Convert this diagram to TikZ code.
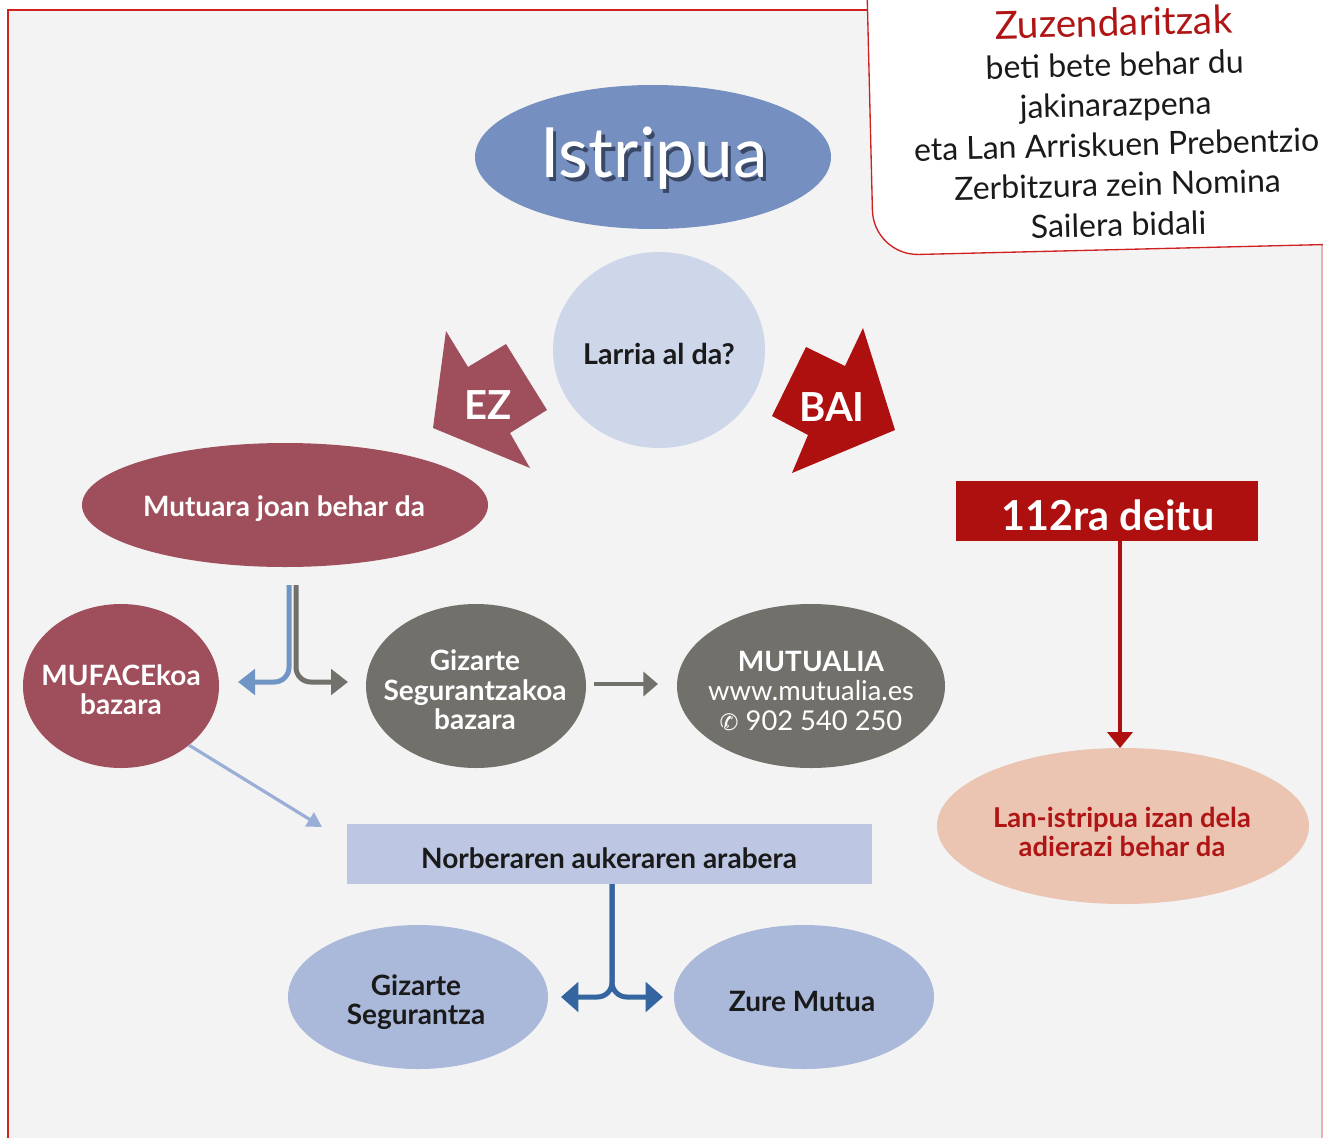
\documentclass[tikz,border=0pt]{standalone}
\usepackage{fontspec}
\setmainfont{Lato}
\newfontfamily\symfont{DejaVu Sans}
\usetikzlibrary{arrows.meta,shapes.geometric}
\definecolor{bg}{HTML}{F3F3F3}
\definecolor{framered}{HTML}{D02020}
\definecolor{maroon}{HTML}{9F4F5C}
\definecolor{dred}{HTML}{AE1010}
\definecolor{steel}{HTML}{7590C0}
\definecolor{pale}{HTML}{CED6E9}
\definecolor{stone}{HTML}{72706A}
\definecolor{lblue}{HTML}{7094C4}
\definecolor{lbtwo}{HTML}{9AAFD8}
\definecolor{rectb}{HTML}{BDC7E3}
\definecolor{ovb}{HTML}{AAB8DA}
\definecolor{dblue}{HTML}{3565A0}
\definecolor{peach}{HTML}{EBC4B2}
\definecolor{txtred}{HTML}{B01515}
\definecolor{ink}{HTML}{1A1A1A}
\definecolor{shade}{HTML}{3A4866}
\newcommand\bodyb{\bfseries\fontsize{21}{22}\selectfont}
\begin{document}
\begin{tikzpicture}[x=0.75pt,y=-0.75pt,
  oval/.style={ellipse, inner sep=0pt, outer sep=0pt},
  lbl/.style={inner sep=0pt, align=center, font=\bodyb},
  boxr/.style={rectangle, inner sep=0pt, outer sep=0pt, align=center},
  fork/.style={line width=3.75pt, rounded corners=11pt},
  tipa/.style={-{Triangle[length=12.75pt,width=19pt]}},
  tipb/.style={-{Triangle[length=13pt,width=22pt]}}]
\useasboundingbox (0,0) rectangle (1323,1138);
% frame
\fill[bg] (8,10) rectangle (1322,1138);
\draw[framered, line width=1.3pt] (8,1138) -- (8,10) -- (900,10);
\draw[framered!35, line width=1pt] (1322,10) -- (1322,1138);
% note box
\begin{scope}[rotate around={1.4:(1100,150)}]
  \fill[white, rounded corners=34pt] (871,-90) -- (871,250) -- (1430,250) -- (1430,-90) -- cycle;
  \draw[framered, line width=1pt, rounded corners=34pt] (871,-90) -- (871,250) -- (1430,250);
\end{scope}
\node[rotate=1.4, align=center, text=ink, font=\fontsize{24}{30}\selectfont] (note) at (1116,122)
  {\textcolor{txtred}{\fontsize{29}{30}\selectfont Zuzendaritzak}\\
   beti bete behar du\\ jakinarazpena\\ eta Lan Arriskuen Prebentzio\\
   Zerbitzura zein Nomina\\ Sailera bidali};
% top
\node[oval, fill=steel, minimum width=267pt, minimum height=108pt] (ist) at (653,157) {};
\node[text=white, font=\fontsize{52}{60}\selectfont] (istt) at (654,160)
  {\makebox[0pt][l]{\hspace{2.5pt}\raisebox{-3.5pt}{\textcolor{shade}{Istripua}}}Istripua};
\node[oval, fill=pale, minimum width=159pt, minimum height=147pt] (larria) at (659,350) {};
\node[lbl, text=ink, font=\bfseries\fontsize{21.5}{24}\selectfont] (larriat) at (659,354) {Larria al da?};
% EZ / BAI block arrows
\fill[maroon] (446,331) -- (468,367) -- (506,344) -- (547,410) -- (510,433) -- (530,468) -- (433,428) -- cycle;
\node[text=white, font=\bfseries\fontsize{30}{32}\selectfont] (ez) at (488,405) {EZ};
\fill[dred] (863,328) -- (895,430) -- (792,473) -- (808,435) -- (772,416) -- (806,347) -- (845,366) -- cycle;
\node[text=white, font=\bfseries\fontsize{30}{32}\selectfont] (bai) at (832,407) {BAI};
% left branch
\node[oval, fill=maroon, minimum width=304.5pt, minimum height=93pt] (mutuara) at (285,505) {};
\node[lbl, text=white] (mutuarat) at (284,509) {Mutuara joan behar da};
\node[oval, fill=maroon, minimum width=147pt, minimum height=123pt] (mufa) at (121,686) {};
\node[lbl, text=white] (mufat) at (121,690) {MUFACEkoa\\bazara};
\node[oval, fill=stone, minimum width=165pt, minimum height=123pt] (gizb) at (476,686) {};
\node[lbl, text=white] (gizbt) at (475,690) {Gizarte\\Segurantzakoa\\bazara};
\node[oval, fill=stone, minimum width=201pt, minimum height=123pt] (mutualia) at (811,686) {};
\node[lbl, text=white] (mutualiat) at (811,691)
  {MUTUALIA\\{\mdseries\fontsize{20.5}{22}\selectfont www.mutualia.es}\\{\mdseries\fontsize{20.5}{22}\selectfont{\symfont\fontsize{17}{20}\selectfont ✆} 902 540 250}};
\node[boxr, fill=rectb, minimum width=393.75pt, minimum height=45pt] (norb) at (609.5,854) {};
\node[lbl, text=ink] (norbt) at (609,858) {Norberaren aukeraren arabera};
\node[oval, fill=ovb, minimum width=195pt, minimum height=108pt] (gs) at (418,997) {};
\node[lbl, text=ink] (gst) at (416,1002) {Gizarte\\Segurantza};
\node[oval, fill=ovb, minimum width=195pt, minimum height=108pt] (zm) at (804,997) {};
\node[lbl, text=ink] (zmt) at (802,1001) {Zure Mutua};
% right branch
\node[boxr, fill=dred, minimum width=226.5pt, minimum height=45pt] (deitu) at (1107,511) {};
\node[lbl, text=white, font=\bfseries\fontsize{31}{32}\selectfont] (deitut) at (1108,515) {112ra deitu};
\node[oval, fill=peach, minimum width=279pt, minimum height=117pt] (lan) at (1123,826) {};
\node[lbl, text=txtred, font=\bfseries\fontsize{20.5}{22}\selectfont] (lant) at (1122,832) {Lan-istripua izan dela\\adierazi behar da};
% connectors
\draw[fork, lblue, tipa] ([xshift=3pt,yshift=-13.5pt]mutuara.south) |- ([xshift=14.25pt,yshift=3pt]mufa.east);
\draw[fork, stone, tipa] ([xshift=8.25pt,yshift=-13.5pt]mutuara.south) |- ([xshift=-13.5pt,yshift=3pt]gizb.west);
\draw[stone, line width=3pt, -{Triangle[length=11pt,width=18pt]}] ([xshift=6pt,yshift=1.5pt]gizb.east) -- ([xshift=-14.25pt,yshift=1.5pt]mutualia.west);
\draw[lbtwo, line width=2.4pt, -{Triangle[length=11pt,width=12pt]}] (mufa.-41) -- ([xshift=-18.75pt,yshift=20.25pt]norb.west);
\draw[fork, dblue, tipb] ([xshift=1.9pt]norb.south) |- ([xshift=9.75pt]gs.east);
\draw[fork, dblue, tipb] ([xshift=1.9pt]norb.south) |- ([xshift=-8.25pt]zm.west);
\path ([xshift=9.75pt]deitu.south) coordinate (r0);
\draw[dred, line width=2.4pt, -{Triangle[length=12pt,width=19pt]}] (r0) -- (r0 |- lan.north);
\end{tikzpicture}
\end{document}
